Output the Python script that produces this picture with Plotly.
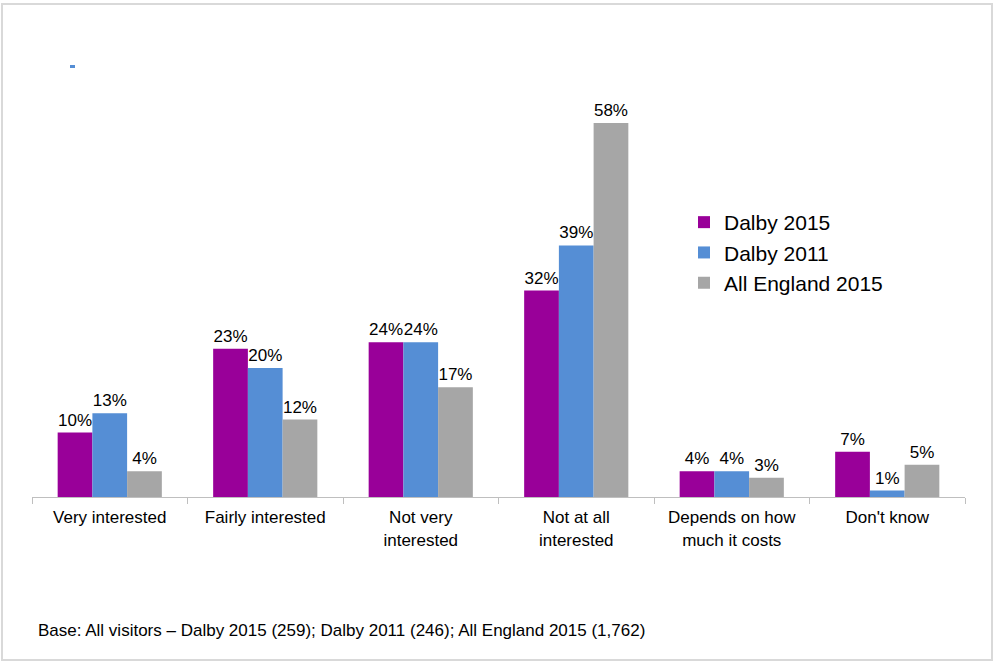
import plotly.graph_objects as go

categories = ["Very interested", "Fairly interested", "Not very<br>interested",
              "Not at all<br>interested", "Depends on how<br>much it costs", "Don't know"]
dalby_2015 = [10, 23, 24, 32, 4, 7]
dalby_2011 = [13, 20, 24, 39, 4, 1]
england_2015 = [4, 12, 17, 58, 3, 5]

series = [
    ("Dalby 2015", dalby_2015, "#990099"),
    ("Dalby 2011", dalby_2011, "#558ED5"),
    ("All England 2015", england_2015, "#A6A6A6"),
]

W, H = 994, 662
ML, MR, MT, MB = 32, 29, 110, 165
PW, PH = W - ML - MR, H - MT - MB

def px_x(x):
    return (x - ML) / PW

def px_y(y):
    return (H - MB - y) / PH

fig = go.Figure()
for name, vals, color in series:
    fig.add_trace(go.Bar(
        name=name, x=categories, y=vals,
        marker=dict(color=color, line=dict(width=0)),
        text=[f"{v}%" for v in vals], textposition="outside",
        textfont=dict(family="Liberation Sans, Arial", size=17, color="#000000"),
        cliponaxis=False,
    ))

fig.update_layout(
    width=W, height=H,
    margin=dict(l=ML, r=MR, t=MT, b=MB),
    paper_bgcolor="white", plot_bgcolor="white",
    barmode="group", bargap=0.33, bargroupgap=0,
    font=dict(family="Liberation Sans, Arial", size=17, color="#000000"),
    showlegend=True,
    legend=dict(x=px_x(684), y=px_y(202), xanchor="left", yanchor="top",
                font=dict(size=21, color="#000000"), tracegroupgap=0,
                bgcolor="rgba(0,0,0,0)"),
    xaxis=dict(showline=True, linecolor="#BFBFBF", linewidth=1,
               ticks="outside", tickson="boundaries", ticklen=6, tickcolor="#BFBFBF",
               tickfont=dict(size=17), ticklabelstandoff=5, showgrid=False),
    yaxis=dict(visible=False, range=[0, 60], showgrid=False),
)

# outer frame
fig.add_shape(type="rect", xref="paper", yref="paper",
              x0=px_x(2), x1=px_x(992), y0=px_y(660), y1=px_y(4),
              line=dict(color="#D9D9D9", width=2), fillcolor="rgba(0,0,0,0)")
# small leftover marker near top-left
fig.add_shape(type="rect", xref="paper", yref="paper",
              x0=px_x(70), x1=px_x(75), y0=px_y(68), y1=px_y(65),
              line=dict(width=0), fillcolor="#558ED5")

fig.add_annotation(text="Base: All visitors \u2013 Dalby 2015 (259); Dalby 2011 (246); All England 2015 (1,762)",
                   xref="paper", yref="paper", x=px_x(36), y=px_y(630),
                   xanchor="left", yanchor="middle", showarrow=False,
                   font=dict(size=17, color="#000000"))

fig.write_html("out.html")
